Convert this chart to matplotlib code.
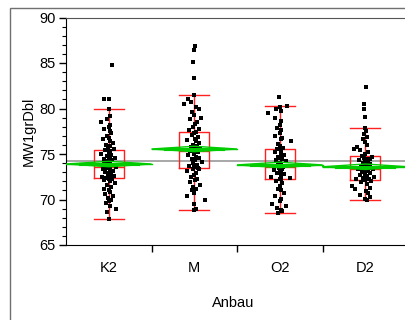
import matplotlib
matplotlib.use('Agg')
import numpy as np
import matplotlib.pyplot as plt
from matplotlib.patches import Polygon, Rectangle
from matplotlib.ticker import MultipleLocator, FixedLocator

plt.rcParams['font.family'] = ['Liberation Sans', 'DejaVu Sans']

# Gruppen (Anbau)
groups = ['K2', 'M', 'O2', 'D2']

# Einzelwerte MW1grDbl je Gruppe
k2_vals = [84.8, 81.0, 81.0, 80.0, 79.2, 78.9, 78.5, 78.2, 78.0, 77.7, 77.5, 77.3, 77.0,
           76.8, 76.6, 76.4, 76.2, 76.0, 75.9, 75.7, 75.5, 75.4, 75.3, 75.2, 75.0, 74.9,
           74.8, 74.7, 74.6, 74.5, 74.4, 74.3, 74.2, 74.1, 74.0, 73.9, 73.8, 73.7, 73.6,
           73.6, 73.5, 73.4, 73.3, 73.2, 73.1, 73.0, 72.9, 72.8, 72.7, 72.6, 72.5, 72.4,
           72.4, 72.3, 72.2, 72.1, 72.0, 71.8, 71.6, 71.4, 71.2, 71.0, 70.8, 70.6, 70.4,
           70.2, 70.0, 69.8, 69.6, 69.3, 69.0, 68.6, 67.9]
m_vals = [86.9, 86.4, 85.1, 83.4, 81.5, 81.0, 80.7, 80.5, 80.2, 80.0, 79.6, 79.3, 79.0,
          78.8, 78.5, 78.3, 78.0, 77.8, 77.6, 77.4, 77.3, 77.1, 76.9, 76.7, 76.5, 76.4,
          76.2, 76.0, 75.9, 75.8, 75.6, 75.5, 75.4, 75.3, 75.3, 75.2, 75.0, 74.9, 74.7,
          74.6, 74.4, 74.3, 74.1, 74.0, 73.8, 73.7, 73.6, 73.5, 73.4, 73.3, 73.1, 72.9,
          72.7, 72.5, 72.3, 72.1, 71.9, 71.6, 71.4, 71.2, 71.0, 70.7, 70.4, 70.0, 69.5,
          69.0, 68.8]
o2_vals = [81.3, 80.3, 80.2, 80.0, 79.7, 79.5, 79.0, 78.6, 78.2, 77.9, 77.6, 77.3, 77.0,
           76.8, 76.6, 76.4, 76.1, 75.9, 75.7, 75.5, 75.4, 75.2, 75.0, 74.9, 74.7, 74.6,
           74.4, 74.3, 74.2, 74.0, 73.9, 73.8, 73.7, 73.6, 73.6, 73.5, 73.4, 73.3, 73.2,
           73.1, 73.0, 72.9, 72.8, 72.7, 72.5, 72.4, 72.3, 72.2, 72.0, 71.8, 71.5, 71.2,
           71.0, 70.7, 70.4, 70.1, 69.8, 69.5, 69.3, 69.1, 68.9, 68.7, 68.5]
d2_vals = [82.4, 80.5, 80.0, 79.1, 77.9, 77.5, 77.2, 76.9, 76.6, 76.3, 76.0, 75.8, 75.6,
           75.4, 75.2, 75.0, 74.8, 74.7, 74.6, 74.5, 74.4, 74.3, 74.2, 74.1, 74.0, 73.9,
           73.8, 73.7, 73.6, 73.5, 73.4, 73.3, 73.3, 73.2, 73.1, 73.0, 72.9, 72.8, 72.7,
           72.6, 72.5, 72.4, 72.3, 72.2, 72.1, 72.0, 71.9, 71.7, 71.5, 71.3, 71.1, 70.9,
           70.7, 70.5, 70.3, 70.1, 70.0]

# horizontale Streuung (Jitter) der Punkte, in Gruppenbreiten
k2_jit = [0.04, -0.05, 0.0, 0.0, 0.01, -0.02, -0.085, 0.02, 0.0, -0.05, 0.01, 0.03, -0.02,
          0.0, -0.07, 0.02, 0.05, -0.03, 0.01, -0.01, 0.06, -0.04, 0.02, 0.0, -0.09, 0.03,
          -0.02, 0.01, 0.07, -0.05, 0.0, 0.04, -0.01, 0.02, -0.06, 0.01, 0.03, -0.03, 0.0,
          0.08, -0.02, 0.02, -0.07, 0.01, 0.05, -0.04, 0.0, 0.03, -0.01, 0.06, -0.08, 0.02,
          -0.03, 0.0, 0.04, -0.05, 0.01, 0.07, -0.02, 0.03, -0.06, 0.0, 0.02, -0.04, 0.05,
          -0.01, 0.03, 0.0, -0.03, 0.02, 0.085, -0.02, 0.0]
m_jit = [0.01, 0.0, -0.01, 0.0, 0.0, -0.07, -0.04, -0.12, 0.02, 0.06, -0.03, 0.0, 0.08,
         -0.05, 0.03, 0.01, -0.02, 0.05, -0.06, 0.02, 0.0, -0.03, 0.04, 0.01, -0.08, 0.02,
         0.06, -0.01, 0.03, -0.04, 0.0, 0.07, -0.02, 0.01, -0.05, 0.04, 0.0, -0.07, 0.02,
         0.05, -0.03, 0.01, 0.09, -0.01, 0.03, -0.06, 0.0, 0.04, -0.02, 0.06, -0.09, 0.02,
         0.0, -0.04, 0.03, 0.01, -0.05, 0.07, -0.01, 0.02, -0.03, 0.0, -0.09, 0.12, 0.0,
         0.02, 0.0]
o2_jit = [-0.01, 0.08, 0.0, -0.04, 0.02, -0.14, -0.06, 0.01, 0.0, -0.03, 0.02, 0.0, -0.05,
          0.03, 0.01, 0.13, -0.02, 0.0, 0.04, -0.03, 0.02, -0.06, 0.01, 0.05, -0.02, 0.0,
          0.03, -0.04, 0.07, 0.0, -0.02, 0.02, -0.05, 0.01, 0.04, -0.01, 0.0, 0.03, -0.07,
          0.02, 0.0, -0.03, 0.05, 0.01, -0.1, 0.12, 0.0, 0.02, -0.04, 0.03, 0.0, -0.02,
          0.01, 0.05, -0.06, 0.02, 0.0, -0.085, 0.07, -0.03, 0.01, 0.03, -0.02]
d2_jit = [0.01, -0.01, -0.02, 0.0, 0.0, 0.01, -0.01, 0.02, -0.03, 0.0, 0.02, -0.1, -0.13,
          -0.06, 0.03, 0.0, -0.04, 0.08, -0.02, 0.05, 0.01, -0.07, 0.03, 0.0, -0.03, 0.06,
          0.02, -0.05, 0.0, 0.04, -0.02, 0.09, -0.08, 0.01, 0.03, -0.04, 0.06, 0.0, -0.06,
          0.02, 0.1, -0.03, 0.04, -0.11, 0.0, 0.07, -0.05, 0.02, -0.15, 0.05, -0.12, 0.01,
          0.03, -0.06, 0.05, 0.0, 0.02]

# Quantile (Box-Plot) je Gruppe
q1 = [72.35, 73.45, 72.24, 72.16]
med = [73.56, 75.28, 73.6, 73.33]
q3 = [75.43, 77.37, 75.54, 74.73]
whis_lo = [67.9, 68.8, 68.5, 70.0]
whis_hi = [80.0, 81.5, 80.3, 77.9]

# Mittelwerte und 95%-Konfidenz (Mittelwert-Rauten)
means = [73.9, 75.55, 73.8, 73.6]
ci_half = [0.3, 0.3, 0.3, 0.3]
grand_mean = 74.2

vals = [k2_vals, m_vals, o2_vals, d2_vals]
jits = [k2_jit, m_jit, o2_jit, d2_jit]
pos = np.arange(1, len(groups) + 1)

fig = plt.figure(figsize=(4.05, 3.2), dpi=100)
ax = fig.add_axes([66 / 405, 75 / 320, 342 / 405, 227.5 / 320])

ax.axhline(grand_mean, color='#a0a0a0', lw=1.3, zorder=2)

stats = []
for i in range(len(groups)):
    stats.append(dict(q1=q1[i], med=med[i], q3=q3[i], whislo=whis_lo[i],
                      whishi=whis_hi[i], fliers=[], label=groups[i]))
red = dict(color='#ff2020', lw=1)
ax.bxp(stats, positions=pos, widths=0.35, capwidths=0.35, showfliers=False,
       boxprops=red, whiskerprops=red, capprops=red, medianprops=red, manage_ticks=False)

for p, v, j in zip(pos, vals, jits):
    ax.plot(p + np.array(j), v, 's', ms=3, mew=0, color='black', zorder=3)

green = '#00cc00'
for p, m, c in zip(pos, means, ci_half):
    ax.add_patch(Polygon([(p - 0.5, m), (p, m + c), (p + 0.5, m), (p, m - c)],
                         closed=True, fill=False, edgecolor=green, lw=1, zorder=4))
    ax.plot([p - 0.5, p + 0.5], [m, m], color=green, lw=1, zorder=4)
    for s in (1, -1):
        ax.plot([p - 0.35, p + 0.35], [m + s * 0.35 * c, m + s * 0.35 * c],
                color=green, lw=0.8, zorder=4)

ax.set_xlim(0.5, 4.5)
ax.set_ylim(65, 90)

ax.yaxis.set_major_locator(MultipleLocator(5))
ax.yaxis.set_minor_locator(MultipleLocator(1))
ax.tick_params(axis='y', which='major', length=5, width=1, labelsize=10.5, pad=2.5)
ax.tick_params(axis='y', which='minor', length=3, width=0.8)

ax.xaxis.set_major_locator(FixedLocator(pos))
ax.set_xticklabels(groups)
ax.xaxis.set_minor_locator(FixedLocator([1.5, 2.5, 3.5]))
ax.tick_params(axis='x', which='major', length=0, labelsize=10.5, pad=11.5)
ax.tick_params(axis='x', which='minor', length=5, width=1)

ax.spines['top'].set_color('#555555')
ax.set_xlabel('Anbau', fontsize=10.5)
ax.set_ylabel('MW1grDbl', fontsize=10.5)
ax.xaxis.set_label_coords(0.488, -0.224)
ax.yaxis.set_label_coords(-0.088, 0.5)

# äußerer Rahmen
fig.add_artist(Rectangle((10 / 405, -0.1), 1.0, 1 - 7.5 / 320 + 0.1,
                         transform=fig.transFigure, fill=False, edgecolor='#707070', lw=1))

fig.savefig('out.png', dpi=100)
